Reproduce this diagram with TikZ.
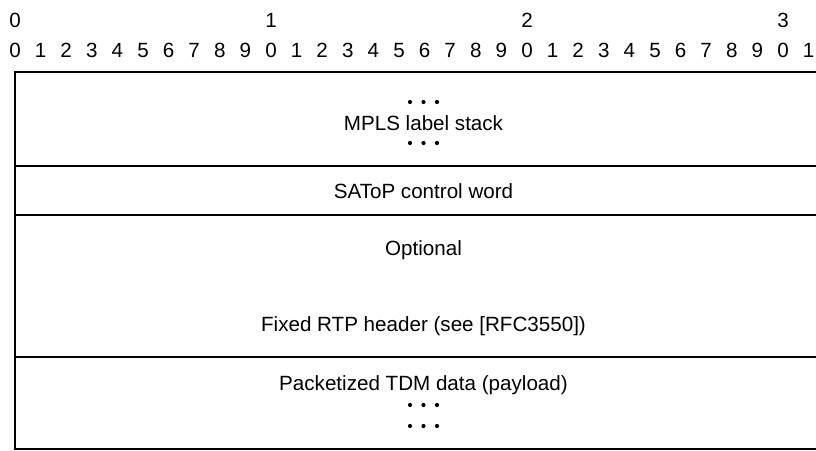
\documentclass[tikz,border=0pt]{standalone}
\usepackage{fontspec}
\setmainfont{Liberation Sans}
\begin{document}
\begin{tikzpicture}[x=1pt,y=-1pt,
  txt/.style={inner sep=0pt,anchor=base,font=\fontsize{20.6}{24}\selectfont},
  rule/.style={line width=2pt,black},
  dot/.style={fill=black}]
\useasboundingbox (0,0) rectangle (816,450);
% ruler
\foreach \i in {0,...,3}{
  \node[txt] (t\i) at ({15+256*\i},27.5) {\i};
}
\foreach \i in {0,...,31}{
  \pgfmathtruncatemacro{\d}{mod(\i,10)}
  \node[txt] (u\i) at ({15+25.6*\i},57.5) {\d};
}
% frame
\draw[rule] (816,72) -- (15,72) -- (15,449) -- (816,449);
\draw[rule] (15,165.5) -- (816,165.5);
\draw[rule] (15,215) -- (816,215);
\draw[rule] (15,357) -- (816,357);
% texts
\node[txt] (mpls) at (423.5,130.5) {MPLS label stack};
\node[txt] (satop) at (423.5,198) {SAToP control word};
\node[txt] (opt) at (423.5,255.5) {Optional};
\node[txt] (rtp) at (423.5,331.5) {Fixed RTP header (see [RFC3550])};
\node[txt] (pkt) at (423.5,390.5) {Packetized TDM data (payload)};
% dots
\foreach \y in {102,143,405,426}{
  \foreach \x in {410,423.5,437}{
    \fill[dot] (\x,\y) circle (2.1pt);
  }
}
\end{tikzpicture}
\end{document}
